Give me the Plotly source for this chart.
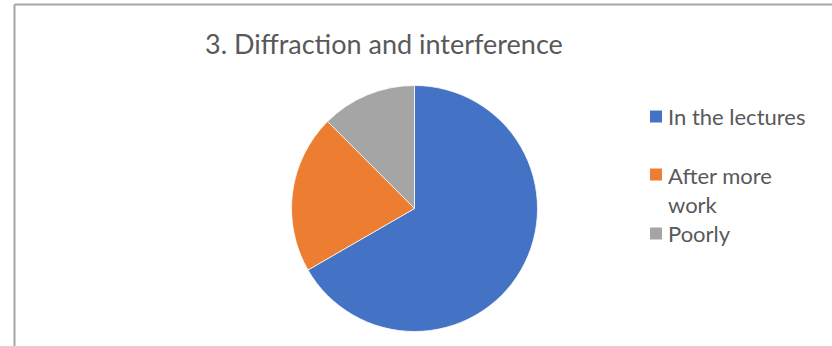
import plotly.graph_objects as go

W, H = 832, 346

# Survey responses
labels = ["In the lectures", "After more<br>work", "Poorly"]
counts = [16, 5, 3]
colors = ["#4472C4", "#ED7D31", "#A5A5A5"]

TEXT = "#595959"
FONT = "Lato"


def px(x):
    return x / W


def py(y):
    return 1 - y / H


fig = go.Figure(
    go.Pie(
        labels=labels,
        values=counts,
        sort=False,
        direction="clockwise",
        rotation=0,
        marker=dict(colors=colors, line=dict(color="white", width=0.75)),
        textinfo="none",
        hoverinfo="label+value+percent",
        showlegend=False,
        domain=dict(x=[px(291.5), px(537.5)], y=[py(331.5), py(85.5)]),
    )
)

# Chart frame (left and top edges visible)
shapes = [
    dict(type="line", xref="paper", yref="paper",
         x0=px(14.5), x1=px(14.5), y0=py(4.5), y1=py(H + 5),
         line=dict(color="#A6A6A6", width=2)),
    dict(type="line", xref="paper", yref="paper",
         x0=px(14.5), x1=px(W + 5), y0=py(4.5), y1=py(4.5),
         line=dict(color="#A6A6A6", width=2)),
]

annotations = [
    dict(text="3. Diffraction and interference", xref="paper", yref="paper",
         x=px(383.5), y=py(43.5), xanchor="center", yanchor="middle",
         showarrow=False, font=dict(family=FONT, size=27, color=TEXT)),
]

# Legend: colour swatch plus label for each slice
legend_rows = [116.5, 189.5, 233.5]
swatch_rows = [116.5, 174.5, 233.5]
for lab, col, ty, sy in zip(labels, colors, legend_rows, swatch_rows):
    shapes.append(dict(type="rect", xref="paper", yref="paper",
                       x0=px(650), x1=px(662), y0=py(sy + 6), y1=py(sy - 6),
                       fillcolor=col, line=dict(width=0)))
    annotations.append(dict(text=lab, xref="paper", yref="paper",
                            x=px(666), y=py(ty), xanchor="left", yanchor="middle",
                            align="left", showarrow=False,
                            font=dict(family=FONT, size=22, color=TEXT)))

fig.update_layout(
    width=W, height=H,
    margin=dict(l=0, r=0, t=0, b=0),
    paper_bgcolor="white",
    plot_bgcolor="white",
    shapes=shapes,
    annotations=annotations,
)

fig.write_html("out.html")
